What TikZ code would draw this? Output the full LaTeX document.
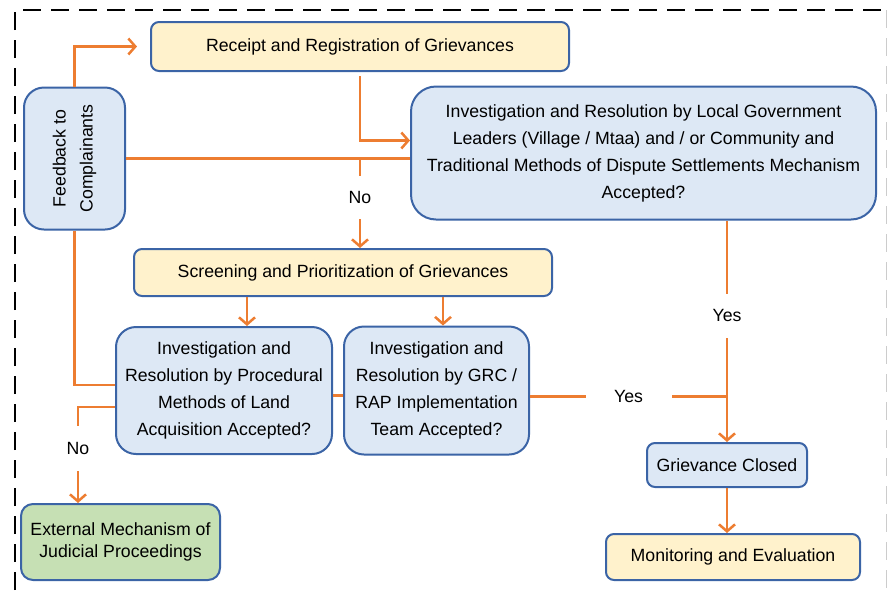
\documentclass[tikz,border=0pt]{standalone}
\usepackage{fontspec}
\setmainfont{Liberation Sans}
\usetikzlibrary{arrows.meta,positioning}
\definecolor{boxline}{HTML}{3B64A6}
\definecolor{bluefill}{HTML}{DDE8F5}
\definecolor{yellowfill}{HTML}{FFF2CC}
\definecolor{greenfill}{HTML}{C6E0B4}
\definecolor{linkorange}{HTML}{ED7D31}

\begin{document}
\begin{tikzpicture}[
    x=1pt, y=-1pt,
    font=\fontsize{17.7}{27}\selectfont,
    box/.style={draw=boxline,line width=2pt,align=center,inner sep=0pt},
    yellowbox/.style={box,rounded corners=8pt,fill=yellowfill},
    bluebox/.style={box,rounded corners=20pt,fill=bluefill},
    greenbox/.style={box,rounded corners=12pt,fill=greenfill},
    link/.style={draw=linkorange,line width=2.5pt},
    arrow/.style={link,-{Straight Barb[length=7pt,width=16pt]}},
    answer/.style={fill=white,inner sep=0pt}
]
\useasboundingbox (0,0) rectangle (888,590);
% dashed frame
\draw[line width=2.6pt,dash pattern=on 18pt off 10pt] (15,590) -- (15,10) -- (888,10);
\draw[gray!40,line width=1pt,dash pattern=on 18pt off 10pt] (886.5,10) -- (886.5,590);

\node[yellowbox,minimum width=418pt,minimum height=49pt] (receipt) at (360,46.5)
    {Receipt and Registration of Grievances};
\node[bluebox,minimum width=101pt,minimum height=142pt,
    below left=14.5pt and 24pt of receipt] (feedback) {};
\node[rotate=90,align=center] (feedbacktext) at (feedback) {Feedback to\\Complainants};
\node[bluebox,rounded corners=25pt,minimum width=465pt,minimum height=133pt,
    right=284pt of feedback,yshift=5.5pt] (local)
    {Investigation and Resolution by Local Government\\Leaders (Village / Mtaa) and / or Community and\\Traditional Methods of Dispute Settlements Mechanism\\Accepted?};
\node[yellowbox,minimum width=418pt,minimum height=47pt,
    below=176pt of receipt,xshift=-17pt] (screen) {Screening and Prioritization of Grievances};
\node[bluebox,minimum width=216pt,minimum height=127pt,
    below=29pt of screen,xshift=-119pt] (proc)
    {Investigation and\\Resolution by Procedural\\Methods of Land\\Acquisition Accepted?};
\node[bluebox,minimum width=185pt,minimum height=128pt,right=10pt of proc] (grc)
    {Investigation and\\Resolution by GRC /\\RAP Implementation\\Team Accepted?};
\node[bluebox,rounded corners=8pt,minimum width=160pt,minimum height=44pt,
    below=221.5pt of local,xshift=83.5pt] (closed) {Grievance Closed};
\node[yellowbox,minimum width=254pt,minimum height=46pt,
    below=45pt of closed,xshift=6pt] (monitor) {Monitoring and Evaluation};
\node[greenbox,minimum width=199pt,minimum height=76pt,font=\fontsize{17.7}{22.5}\selectfont,
    below=48pt of proc,xshift=-103.5pt] (external) {External Mechanism of\\Judicial Proceedings};

% connectors
\draw[arrow,shorten >=13pt] (feedback.north) |- (receipt.west);
\draw[arrow,shorten <=4pt] (receipt.south) |- ([yshift=12.5pt]local.west);
\draw[link] (feedback.east) -- (feedback.east -| local.west);
\coordinate (nobranch) at (feedback.east -| receipt.south);
\draw[arrow] (nobranch) -- node[answer,minimum height=43pt,pos=0.44]{No} (nobranch |- screen.north);
\draw[arrow] (closed.north |- local.south) -- node[answer,minimum height=44pt,pos=0.43]{Yes} (closed.north);
\draw[arrow] ([xshift=23pt]proc.north |- screen.south) -- ([xshift=23pt]proc.north);
\draw[arrow] ([xshift=6.5pt]grc.north |- screen.south) -- ([xshift=6.5pt]grc.north);
\draw[link] ([yshift=-5pt]proc.east) -- ([yshift=-5pt]grc.west);
\draw[link] ([yshift=-6pt]grc.east) -- node[answer,minimum width=86pt]{Yes} ([yshift=-6pt]grc.east -| closed.north);
\draw[link] (feedback.south) |- ([yshift=5.5pt]proc.west);
\draw[arrow] ([yshift=-16.5pt]proc.west) -| node[answer,minimum height=45pt,pos=0.717]{No} ([xshift=-42.5pt]external.north);
\draw[arrow] ([xshift=-6pt]monitor.north |- closed.south) -- ([xshift=-6pt]monitor.north);
\end{tikzpicture}
\end{document}
